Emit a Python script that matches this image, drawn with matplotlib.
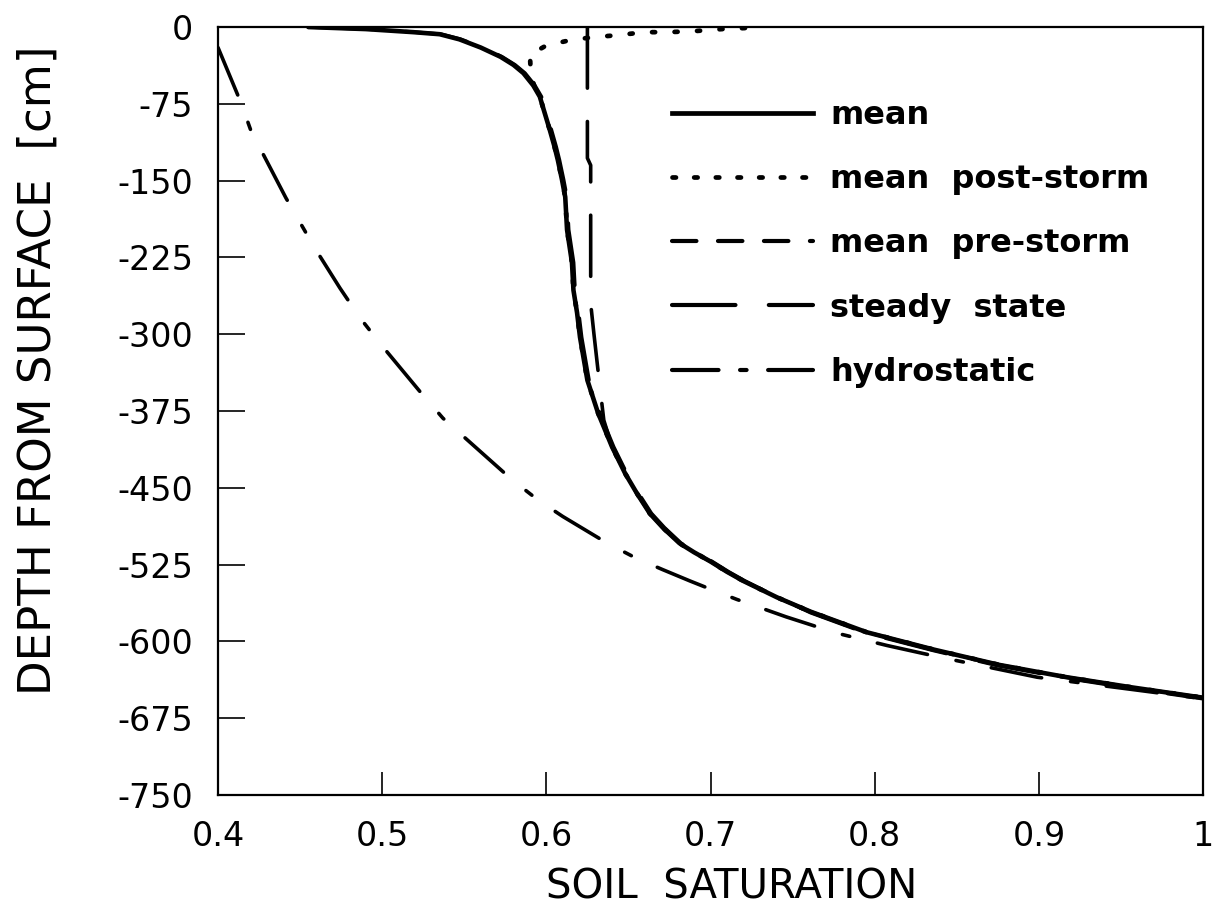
import matplotlib
matplotlib.use("Agg")
import matplotlib.pyplot as plt
from matplotlib.lines import Line2D

plt.rcParams['font.family'] = ['DejaVu Sans']
plt.rcParams['axes.unicode_minus'] = False
plt.rcParams['lines.scale_dashes'] = False

# mean profile (saturation, depth in cm)
mean_sat = [0.455, 0.490, 0.519, 0.535, 0.547, 0.560, 0.572, 0.580, 0.586, 0.592, 0.596,
            0.599, 0.602, 0.605, 0.607, 0.6095, 0.6115, 0.6126, 0.6156, 0.6165, 0.6187,
            0.6205, 0.625, 0.6315, 0.640, 0.648, 0.655, 0.663, 0.671, 0.681, 0.690,
            0.700, 0.710, 0.720, 0.7405, 0.761, 0.795, 0.836, 0.876, 0.917, 0.957, 1.000]
mean_depth = [0, -2, -5, -7, -12, -20, -29, -37, -45, -57, -68,
              -84, -100, -117, -130, -149, -166, -198, -230, -257, -279,
              -303, -345, -377, -410, -436, -455, -475, -489, -504, -513,
              -522, -532, -541, -557, -571, -591, -608, -623, -635, -645, -655]

# mean post-storm
post_sat = [0.721, 0.707, 0.690, 0.674, 0.660, 0.643, 0.628, 0.614, 0.600, 0.590, 0.5905,
            0.593, 0.596, 0.599, 0.602, 0.605, 0.607, 0.6095, 0.6115, 0.6126, 0.6156,
            0.6165, 0.6187, 0.6205, 0.625, 0.6315, 0.640, 0.648, 0.655, 0.663, 0.671,
            0.681, 0.690, 0.700, 0.710, 0.720, 0.7405, 0.761, 0.795, 0.836, 0.876,
            0.917, 0.957, 1.000]
post_depth = [-1, -2, -4, -5, -5, -8, -10, -13, -18, -27, -45,
              -60, -68, -84, -100, -117, -130, -149, -166, -198, -230,
              -257, -279, -303, -345, -377, -410, -436, -455, -475, -489,
              -504, -513, -522, -532, -541, -557, -571, -591, -608, -623,
              -635, -645, -655]

# mean pre-storm
pre_sat = [0.625, 0.625, 0.627, 0.627, 0.629, 0.632, 0.635, 0.640, 0.648, 0.655, 0.663,
           0.671, 0.681, 0.690, 0.700, 0.710, 0.720, 0.7405, 0.761, 0.795, 0.836,
           0.876, 0.917, 0.957, 1.000]
pre_depth = [0, -128, -135, -270, -300, -343, -384, -410, -436, -455, -475,
             -489, -504, -513, -522, -532, -541, -557, -571, -591, -608,
             -623, -635, -645, -655]

# steady state
steady_sat = [0.456, 0.491, 0.520, 0.536, 0.548, 0.561, 0.573, 0.581, 0.587, 0.593, 0.597,
              0.600, 0.603, 0.606, 0.608, 0.6105, 0.6125, 0.6136, 0.6166, 0.6175, 0.6197,
              0.6215, 0.626, 0.6325, 0.641, 0.649, 0.656, 0.664, 0.672, 0.682, 0.691,
              0.701, 0.711, 0.721, 0.741, 0.761, 0.795, 0.836, 0.876, 0.917, 0.957, 1.000]
steady_depth = [0, -2, -5, -7, -12, -20, -29, -37, -45, -57, -68,
                -84, -100, -117, -130, -149, -166, -198, -230, -257, -279,
                -303, -345, -377, -410, -436, -455, -475, -489, -504, -513,
                -522, -532, -541, -557, -572, -592, -609, -624, -636, -646, -656]

# hydrostatic
hydro_sat = [0.400, 0.414, 0.420, 0.4268, 0.4414, 0.450, 0.459, 0.4743, 0.4865, 0.4987,
             0.523, 0.537, 0.5517, 0.579, 0.595, 0.610, 0.637, 0.655, 0.671, 0.6875,
             0.700, 0.716, 0.746, 0.777, 0.8075, 0.8385, 0.899, 0.957, 1.000]
hydro_depth = [-20, -74, -101, -122, -167, -191, -216, -255, -284, -309,
               -356, -382, -403, -442, -462, -478, -504, -519, -530, -541,
               -549, -559, -576, -592, -604, -615, -635, -647, -656]

xticks = [0.4, 0.5, 0.6, 0.7, 0.8, 0.9, 1.0]
xtick_labels = ['0.4', '0.5', '0.6', '0.7', '0.8', '0.9', '1']
yticks = [0, -75, -150, -225, -300, -375, -450, -525, -600, -675, -750]

fig = plt.figure(figsize=(12.22, 9.23), dpi=100)
ax = fig.add_axes([0.1784, 0.1387, 0.8061, 0.832])

ax.plot(hydro_sat, hydro_depth, color='black', lw=2.6, dashes=(37, 21, 5.4, 20.5),
        dash_capstyle='round')
ax.plot(steady_sat, steady_depth, color='black', lw=2.6, dashes=(45, 24),
        dash_capstyle='round')
ax.plot(pre_sat, pre_depth, color='black', lw=2.6, dashes=(44, 24),
        dash_capstyle='round')
ax.plot(post_sat, post_depth, color='black', lw=3.4, dashes=(2.2, 14),
        dash_capstyle='round')
ax.plot(mean_sat, mean_depth, color='black', lw=3.3, solid_capstyle='round',
        solid_joinstyle='round')

ax.set_xlim(0.4, 1.0)
ax.set_ylim(-750, 0)
ax.set_xticks(xticks)
ax.set_xticklabels(xtick_labels)
ax.set_yticks(yticks)
ax.tick_params(axis='both', direction='in', labelsize=24, width=1.2)
ax.tick_params(axis='x', length=16.5, pad=18)
ax.tick_params(axis='y', length=19.5, pad=18)
for sp in ax.spines.values():
    sp.set_linewidth(1.6)

ax.set_xlabel('SOIL  SATURATION', fontsize=29, va='center')
ax.xaxis.set_label_coords(0.521, -0.121)
ax.set_ylabel('DEPTH FROM SURFACE  [cm]', fontsize=32.5, va='center')
ax.yaxis.set_label_coords(-0.183, 0.553)

# legend proxies with their own dash spacing
handles = [
    Line2D([], [], color='black', lw=3.4),
    Line2D([], [], color='black', lw=3.4, dashes=(2.5, 13.1), dash_capstyle='round'),
    Line2D([], [], color='black', lw=3.0, dashes=(17.6, 15.5), dash_capstyle='round'),
    Line2D([], [], color='black', lw=3.0, dashes=(45.7, 24), dash_capstyle='round'),
    Line2D([], [], color='black', lw=3.0, dashes=(33.5, 15.5, 4.7, 15.5), dash_capstyle='round'),
]
labels = ['mean', 'mean  post-storm', 'mean  pre-storm', 'steady  state', 'hydrostatic']
ax.legend(handles, labels, loc='upper left', bbox_to_anchor=(672 / 1222, 1 - 100 / 923),
          bbox_transform=fig.transFigure, frameon=False, borderpad=0, borderaxespad=0,
          handlelength=4.42, handletextpad=0.53, labelspacing=1.04,
          prop={'size': 23, 'weight': 'bold'})

fig.savefig('out.png', dpi=100)
